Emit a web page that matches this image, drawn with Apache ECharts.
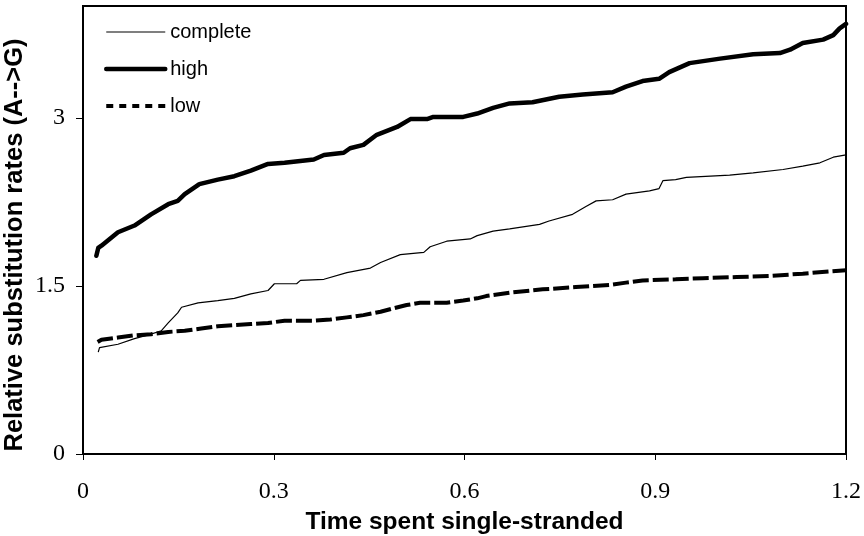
<!DOCTYPE html>
<html><head><meta charset="utf-8">
<script src="https://cdn.jsdelivr.net/npm/echarts@6/dist/echarts.min.js"></script>
<style>html,body{margin:0;padding:0;background:#fff}#c{width:864px;height:536px}</style>
</head><body><div id="c"></div>
<script>
const xTicks = [0, 0.3, 0.6, 0.9, 1.2];
const yTicks = [0, 1.5, 3];
const xTitle = 'Time spent single-stranded';
const yTitle = 'Relative substitution rates (A-->G)';
const seriesNames = ['complete', 'high', 'low'];

const completeData = [[0.024,0.91],[0.026,0.95],[0.055,0.98],[0.081,1.03],[0.107,1.07],[0.123,1.10],[0.134,1.17],[0.149,1.26],[0.155,1.31],[0.181,1.35],[0.212,1.37],[0.238,1.39],[0.264,1.43],[0.291,1.46],[0.301,1.52],[0.336,1.52],[0.342,1.55],[0.379,1.56],[0.415,1.62],[0.452,1.66],[0.468,1.71],[0.499,1.78],[0.536,1.80],[0.546,1.85],[0.572,1.90],[0.609,1.92],[0.62,1.95],[0.645,1.99],[0.671,2.01],[0.718,2.05],[0.733,2.08],[0.770,2.14],[0.791,2.21],[0.807,2.26],[0.833,2.27],[0.854,2.32],[0.891,2.35],[0.906,2.37],[0.912,2.44],[0.932,2.45],[0.949,2.47],[1.017,2.49],[1.054,2.51],[1.101,2.54],[1.132,2.57],[1.159,2.60],[1.180,2.65],[1.200,2.67]];

const highData = [[0.021,1.77],[0.024,1.84],[0.029,1.86],[0.055,1.98],[0.081,2.04],[0.107,2.14],[0.134,2.23],[0.149,2.26],[0.160,2.32],[0.183,2.41],[0.212,2.45],[0.238,2.48],[0.264,2.53],[0.291,2.59],[0.317,2.60],[0.363,2.63],[0.379,2.67],[0.410,2.69],[0.420,2.73],[0.441,2.76],[0.462,2.85],[0.494,2.92],[0.515,2.99],[0.541,2.99],[0.551,3.01],[0.598,3.01],[0.62,3.04],[0.645,3.09],[0.671,3.13],[0.707,3.14],[0.749,3.19],[0.786,3.21],[0.833,3.23],[0.854,3.28],[0.880,3.33],[0.906,3.35],[0.922,3.41],[0.954,3.49],[1.002,3.53],[1.054,3.57],[1.096,3.58],[1.112,3.61],[1.132,3.67],[1.164,3.70],[1.180,3.74],[1.190,3.80],[1.200,3.84]];

const lowData = [[0.023,1.00],[0.029,1.02],[0.055,1.04],[0.081,1.06],[0.107,1.07],[0.134,1.09],[0.160,1.10],[0.186,1.12],[0.212,1.14],[0.238,1.15],[0.264,1.16],[0.291,1.17],[0.317,1.19],[0.363,1.19],[0.389,1.20],[0.415,1.22],[0.441,1.24],[0.468,1.27],[0.488,1.30],[0.509,1.33],[0.530,1.35],[0.572,1.35],[0.598,1.37],[0.62,1.39],[0.634,1.41],[0.671,1.44],[0.723,1.47],[0.775,1.49],[0.828,1.51],[0.854,1.53],[0.880,1.55],[0.932,1.56],[0.975,1.57],[1.028,1.58],[1.080,1.59],[1.132,1.61],[1.174,1.63],[1.200,1.64]];

const chart = echarts.init(document.getElementById('c'), null, {renderer: 'canvas'});
const serif = 'Liberation Serif, Times New Roman, serif';
const sans = 'Liberation Sans, Arial, sans-serif';
chart.setOption({
  animation: false,
  backgroundColor: '#fff',
  grid: {left: 83, right: 18, top: 6, bottom: 82, show: true, borderColor: '#000', borderWidth: 2,
    containLabel: false, outerBoundsMode: 'none'},
  legend: {
    orient: 'vertical', left: 104, top: 22, padding: 0, itemWidth: 59, itemHeight: 14, itemGap: 17, itemTextGap: 5,
    itemStyle: {opacity: 0},
    textStyle: {fontFamily: sans, fontSize: 20, color: '#000', lineHeight: 20},
    data: [
      {name: seriesNames[0], lineStyle: {width: 1.2}},
      {name: seriesNames[1], lineStyle: {width: 4.5, cap: 'round'}},
      {name: seriesNames[2], lineStyle: {width: 4, type: [7, 6], cap: 'butt'}}
    ]
  },
  xAxis: {
    type: 'value', min: 0, max: 1.2, interval: 0.3,
    name: xTitle, nameLocation: 'middle', nameGap: 56, nameMoveOverlap: false,
    nameTextStyle: {fontFamily: sans, fontSize: 24.5, fontWeight: 'bold', color: '#000'},
    axisLine: {show: true, lineStyle: {color: '#000', width: 2}},
    axisTick: {show: true, inside: false, length: 6, lineStyle: {color: '#000', width: 1}, customValues: xTicks},
    axisLabel: {fontFamily: serif, fontSize: 24, color: '#000', margin: 26, customValues: xTicks,
      formatter: v => String(v)},
    splitLine: {show: false}
  },
  yAxis: {
    type: 'value', min: 0, max: 4, interval: 1.5,
    name: yTitle, nameLocation: 'middle', nameGap: 55, nameRotate: 90, nameMoveOverlap: false,
    nameTextStyle: {fontFamily: sans, fontSize: 25.5, fontWeight: 'bold', color: '#000', padding: [0, 30, 0, 0]},
    axisLine: {show: true, lineStyle: {color: '#000', width: 2}},
    axisTick: {show: true, inside: false, length: 7, lineStyle: {color: '#000', width: 1}, customValues: yTicks},
    axisLabel: {fontFamily: serif, fontSize: 24, color: '#000', margin: 18, customValues: yTicks,
      formatter: v => String(v)},
    splitLine: {show: false}
  },
  series: [
    {name: seriesNames[0], type: 'line', data: completeData, symbol: 'none', smooth: false,
      lineStyle: {color: '#000', width: 1.2}, itemStyle: {color: '#000'}},
    {name: seriesNames[1], type: 'line', data: highData, symbol: 'none',
      lineStyle: {color: '#000', width: 4.5, cap: 'round', join: 'round'}, itemStyle: {color: '#000'}},
    {name: seriesNames[2], type: 'line', data: lowData, symbol: 'none',
      lineStyle: {color: '#000', width: 4, type: [16, 4]}, itemStyle: {color: '#000'}}
  ]
});
</script></body></html>
